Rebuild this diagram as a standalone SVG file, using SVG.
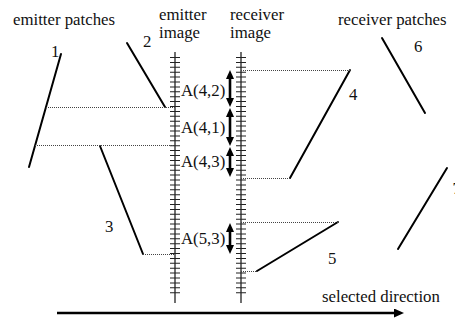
<svg xmlns="http://www.w3.org/2000/svg" width="455" height="321" viewBox="0 0 455 321">
  <style>
    text { font-family: "Liberation Serif", "Times New Roman", serif; font-size: 16.8px; fill: #111; }
    .patch { stroke: #000; stroke-width: 2; fill: none; stroke-linecap: round; }
    .dot { stroke: #444; stroke-width: 1; stroke-dasharray: 1 1; fill: none; }
    .axis { stroke: #222; stroke-width: 1.3; }
    .ticks { stroke: #222; stroke-width: 10; stroke-dasharray: 1 3.9; fill: none; }
    .span { stroke: #000; stroke-width: 2.6; marker-start: url(#head); marker-end: url(#head); }
  </style>
  <defs>
    <marker id="head" markerUnits="userSpaceOnUse" markerWidth="10" markerHeight="8" refX="5" refY="4" orient="auto-start-reverse">
      <path d="M0,0 L9,4 L0,8 z" fill="#000"/>
    </marker>
    <marker id="bighead" markerUnits="userSpaceOnUse" markerWidth="10" markerHeight="9" refX="2" refY="4.5" orient="auto">
      <path d="M0,0 L10,4.5 L0,9 z" fill="#000"/>
    </marker>
  </defs>

  <rect width="455" height="321" fill="#fff"/>

  <!-- headings -->
  <text x="13" y="25">emitter patches</text>
  <text x="159" y="20">emitter</text>
  <text x="159" y="37.5">image</text>
  <text x="230" y="20">receiver</text>
  <text x="230" y="37.5">image</text>
  <text x="338" y="25">receiver patches</text>

  <!-- image axes with tick marks -->
  <g id="emitter-image">
    <line class="axis" x1="175" y1="52" x2="175" y2="303"/>
    <line class="ticks" x1="175" y1="57" x2="175" y2="295"/>
  </g>
  <g id="receiver-image">
    <line class="axis" x1="241" y1="52" x2="241" y2="303"/>
    <line class="ticks" x1="241" y1="57" x2="241" y2="295"/>
  </g>

  <!-- emitter patches -->
  <g id="patch-1">
    <line class="patch" x1="61" y1="54" x2="29" y2="167"/>
    <text x="51" y="57">1</text>
  </g>
  <g id="patch-2">
    <line class="patch" x1="127" y1="43" x2="165" y2="107"/>
    <text x="143" y="47">2</text>
  </g>
  <g id="patch-3">
    <line class="patch" x1="100" y1="146" x2="143" y2="254"/>
    <text x="105" y="232">3</text>
  </g>

  <!-- receiver patches -->
  <g id="patch-4">
    <line class="patch" x1="350" y1="70" x2="290" y2="178"/>
    <text x="349" y="100">4</text>
  </g>
  <g id="patch-5">
    <line class="patch" x1="338" y1="222" x2="257" y2="271"/>
    <text x="328" y="264">5</text>
  </g>
  <g id="patch-6">
    <line class="patch" x1="382" y1="38" x2="425" y2="113"/>
    <text x="414" y="52">6</text>
  </g>
  <g id="patch-7">
    <line class="patch" x1="447" y1="168" x2="398" y2="249"/>
    <!-- label runs past the right edge of the canvas -->
    <text x="452.5" y="194">7</text>
  </g>

  <!-- projections and form-factor spans -->
  <g id="connectors">
    <line class="dot" x1="46" y1="107.5" x2="175" y2="107.5"/>
    <line class="dot" x1="35" y1="145.5" x2="175" y2="145.5"/>
    <line class="dot" x1="143" y1="254.5" x2="175" y2="254.5"/>
    <line class="dot" x1="241" y1="70.5" x2="350" y2="70.5"/>
    <line class="dot" x1="241" y1="178.5" x2="290" y2="178.5"/>
    <line class="dot" x1="241" y1="222.5" x2="338" y2="222.5"/>
    <line class="dot" x1="241" y1="271.5" x2="257" y2="271.5"/>

    <line class="span" x1="230" y1="74" x2="230" y2="103"/>
    <line class="span" x1="230" y1="112" x2="230" y2="142"/>
    <line class="span" x1="230" y1="151" x2="230" y2="173"/>
    <line class="span" x1="230" y1="227" x2="230" y2="250"/>

    <line x1="57" y1="313" x2="396" y2="313" stroke="#000" stroke-width="2.6" marker-end="url(#bighead)"/>
  </g>

  <!-- span labels -->
  <text x="181" y="96">A(4,2)</text>
  <text x="181" y="133">A(4,1)</text>
  <text x="181" y="167">A(4,3)</text>
  <text x="181" y="244">A(5,3)</text>

  <text x="322" y="302">selected direction</text>
</svg>
